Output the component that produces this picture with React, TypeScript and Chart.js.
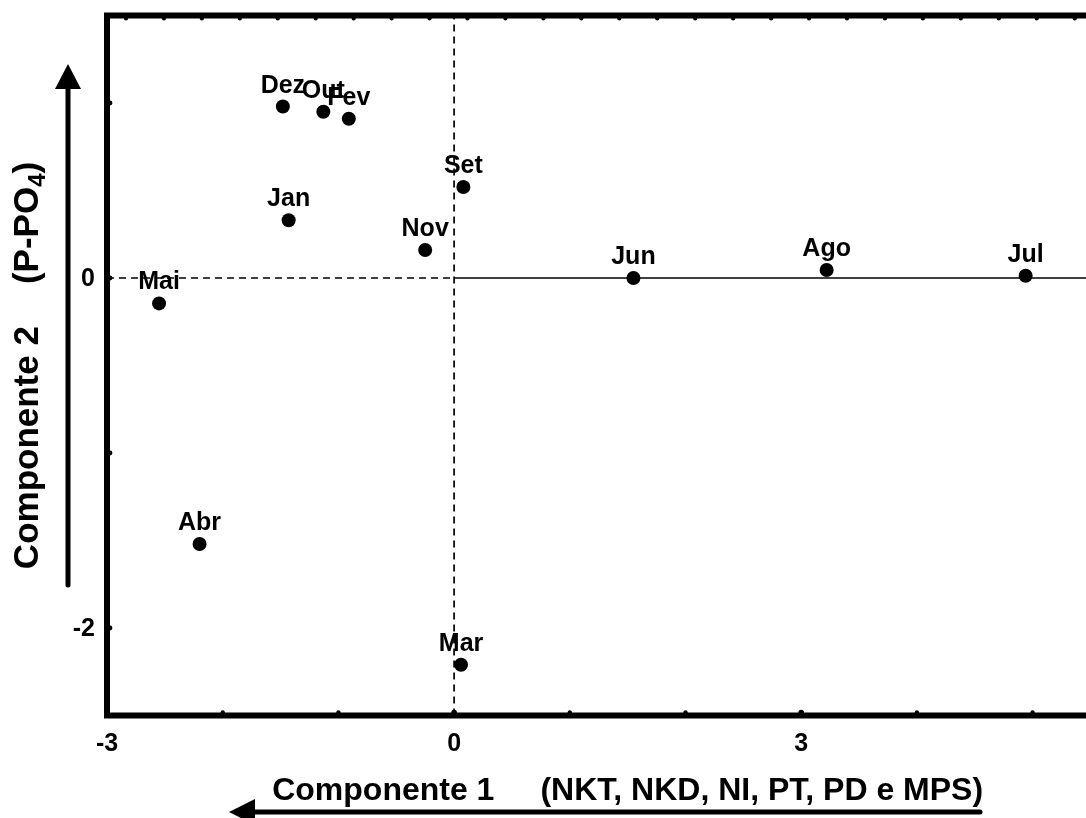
import { useEffect, useRef } from 'react';
import { Chart, registerables } from 'chart.js';

Chart.register(...registerables);

// Monthly scores on the first two principal components
const months = ['Jan', 'Fev', 'Mar', 'Abr', 'Mai', 'Jun', 'Jul', 'Ago', 'Set', 'Out', 'Nov', 'Dez'];
const comp1 = [-1.43, -0.91, 0.06, -2.2, -2.55, 1.55, 4.94, 3.22, 0.08, -1.13, -0.25, -1.48];
const comp2 = [0.33, 0.91, -2.21, -1.52, -0.145, 0.0, 0.013, 0.046, 0.52, 0.95, 0.16, 0.98];

// Axis ranges, tick marks and labelled ticks
const X_MIN = -3;
const X_MAX = 6;
const Y_MIN = -2.5;
const Y_MAX = 1.5;
const xTickValues = [-3, -2, -1, 0, 1, 2, 3, 4, 5, 6];
const xLabelValues = [-3, 0, 3];
const yTickValues = [-2, -1, 0, 1];
const yLabelValues = [0, -2];
const TOP_MAX = 13.72;
const TOP_STEP = 0.25;

const xTitleMain = 'Componente 1';
const xTitleVars = '(NKT, NKD, NI, PT, PD e MPS)';
const yTitleMain = 'Componente 2';
const yTitleVarPre = '(P-PO';
const yTitleVarSub = '4';
const yTitleVarPost = ')';

const FONT = '"Liberation Sans", Arial, Helvetica, sans-serif';

const decor = {
  id: 'decor',
  afterDatasetsDraw(chart: any) {
    const ctx: CanvasRenderingContext2D = chart.ctx;
    const { left, right, top, bottom } = chart.chartArea;
    const xs = chart.scales.x;
    const ys = chart.scales.y;
    const xt = chart.scales.xTop;
    ctx.save();
    ctx.fillStyle = '#000';
    ctx.strokeStyle = '#000';

    // frame
    ctx.lineWidth = 6;
    ctx.lineCap = 'square';
    ctx.beginPath();
    ctx.moveTo(right, top);
    ctx.lineTo(left, top);
    ctx.lineTo(left, bottom);
    ctx.lineTo(right, bottom);
    ctx.lineTo(right, top);
    ctx.stroke();

    // inward tick dots
    const dot = (x: number, y: number, r: number) => {
      ctx.beginPath();
      ctx.arc(x, y, r, 0, Math.PI * 2);
      ctx.fill();
    };
    xs.ticks.forEach((t: any) => {
      const px = xs.getPixelForValue(t.value);
      dot(px, bottom - 3, xLabelValues.includes(t.value) ? 2.8 : 2.2);
    });
    ys.ticks.forEach((t: any) => {
      const py = ys.getPixelForValue(t.value);
      dot(left + 3, py, 2.4);
    });
    xt.ticks.forEach((t: any) => {
      const px = xt.getPixelForValue(t.value);
      const major = Math.abs(t.value - Math.round(t.value)) < 1e-6;
      dot(px, top + 3, major ? 2.8 : 2.1);
    });

    // tick labels
    ctx.font = `bold 25px ${FONT}`;
    ctx.textAlign = 'center';
    ctx.textBaseline = 'middle';
    xLabelValues.forEach((v) => {
      ctx.fillText(String(v), xs.getPixelForValue(v), 744);
    });
    ctx.textAlign = 'right';
    yLabelValues.forEach((v) => {
      ctx.fillText(String(v), 95, ys.getPixelForValue(v) + 1);
    });

    // point labels
    const meta = chart.getDatasetMeta(0);
    ctx.textAlign = 'center';
    ctx.textBaseline = 'alphabetic';
    meta.data.forEach((el: any, i: number) => {
      ctx.fillText(months[i], el.x, el.y - 14);
    });

    // x axis title
    ctx.font = `bold 32px ${FONT}`;
    ctx.textAlign = 'left';
    const gapX = 46;
    const w1 = ctx.measureText(xTitleMain).width;
    const w2 = ctx.measureText(xTitleVars).width;
    const cx = (left + right) / 2;
    const sx = cx - (w1 + gapX + w2) / 2;
    ctx.fillText(xTitleMain, sx, 800);
    ctx.fillText(xTitleVars, sx + w1 + gapX, 800);

    // y axis title (rotated, with subscript)
    const cy = (top + bottom) / 2;
    ctx.save();
    ctx.translate(38, cy);
    ctx.rotate(-Math.PI / 2);
    ctx.font = `bold 35px ${FONT}`;
    const m1 = ctx.measureText(yTitleMain).width;
    const mPre = ctx.measureText(yTitleVarPre).width;
    const mPost = ctx.measureText(yTitleVarPost).width;
    ctx.font = `bold 24px ${FONT}`;
    const mSub = ctx.measureText(yTitleVarSub).width;
    const gapY = 42;
    const total = m1 + gapY + mPre + mSub + mPost;
    let u = -total / 2;
    ctx.font = `bold 35px ${FONT}`;
    ctx.fillText(yTitleMain, u, 0);
    u += m1 + gapY;
    ctx.fillText(yTitleVarPre, u, 0);
    u += mPre;
    ctx.font = `bold 24px ${FONT}`;
    ctx.fillText(yTitleVarSub, u, 7);
    u += mSub;
    ctx.font = `bold 35px ${FONT}`;
    ctx.fillText(yTitleVarPost, u, 0);
    ctx.restore();

    // direction arrows
    ctx.lineWidth = 5;
    ctx.lineCap = 'round';
    ctx.beginPath();
    ctx.moveTo(68, 585);
    ctx.lineTo(68, 84);
    ctx.stroke();
    ctx.beginPath();
    ctx.moveTo(68, 64);
    ctx.lineTo(81, 89);
    ctx.lineTo(55, 89);
    ctx.closePath();
    ctx.fill();

    ctx.beginPath();
    ctx.moveTo(980, 812);
    ctx.lineTo(250, 812);
    ctx.stroke();
    ctx.beginPath();
    ctx.moveTo(229, 812);
    ctx.lineTo(255, 799);
    ctx.lineTo(255, 825);
    ctx.closePath();
    ctx.fill();

    ctx.restore();
  },
};

export default function App() {
  const canvasRef = useRef<HTMLCanvasElement | null>(null);

  useEffect(() => {
    const canvas = canvasRef.current;
    if (!canvas) return;
    const points = months.map((_, i) => ({ x: comp1[i], y: comp2[i] }));
    const chart = new Chart(canvas, {
      type: 'scatter',
      data: {
        datasets: [
          {
            data: points,
            pointRadius: 7,
            pointHoverRadius: 7,
            pointBackgroundColor: '#000',
            pointBorderColor: '#000',
            pointBorderWidth: 0,
          },
          {
            data: [
              { x: X_MIN, y: 0 },
              { x: 0, y: 0 },
            ],
            showLine: true,
            borderColor: '#000',
            borderWidth: 1.7,
            borderDash: [7, 5],
            pointRadius: 0,
          },
          {
            data: [
              { x: 0, y: 0 },
              { x: X_MAX, y: 0 },
            ],
            showLine: true,
            borderColor: '#000',
            borderWidth: 1.7,
            pointRadius: 0,
          },
          {
            data: [
              { x: 0, y: Y_MIN },
              { x: 0, y: Y_MAX },
            ],
            showLine: true,
            borderColor: '#000',
            borderWidth: 1.7,
            borderDash: [7, 5],
            pointRadius: 0,
          },
        ],
      },
      options: {
        responsive: false,
        animation: false,
        devicePixelRatio: 1,
        layout: { padding: { left: 107, right: 51.7, top: 15.5, bottom: 102.5 } },
        plugins: { legend: { display: false }, tooltip: { enabled: false } },
        events: [],
        scales: {
          x: {
            type: 'linear',
            min: X_MIN,
            max: X_MAX,
            display: false,
            afterBuildTicks: (s: any) => {
              s.ticks = xTickValues.map((v) => ({ value: v }));
            },
          },
          y: {
            type: 'linear',
            min: Y_MIN,
            max: Y_MAX,
            display: false,
            afterBuildTicks: (s: any) => {
              s.ticks = yTickValues.map((v) => ({ value: v }));
            },
          },
          xTop: {
            type: 'linear',
            axis: 'x',
            position: 'top',
            min: 0,
            max: TOP_MAX,
            display: false,
            afterBuildTicks: (s: any) => {
              const t: { value: number }[] = [];
              for (let v = TOP_STEP; v < TOP_MAX; v += TOP_STEP) t.push({ value: v });
              s.ticks = t;
            },
          },
        },
      } as any,
      plugins: [decor],
    });
    return () => chart.destroy();
  }, []);

  return (
    <div
      style={{
        position: 'fixed',
        left: 0,
        top: 0,
        width: 1086,
        height: 818,
        overflow: 'hidden',
        background: '#fff',
      }}
    >
      <canvas ref={canvasRef} width={1200} height={818} style={{ display: 'block', width: 1200, height: 818 }} />
    </div>
  );
}
